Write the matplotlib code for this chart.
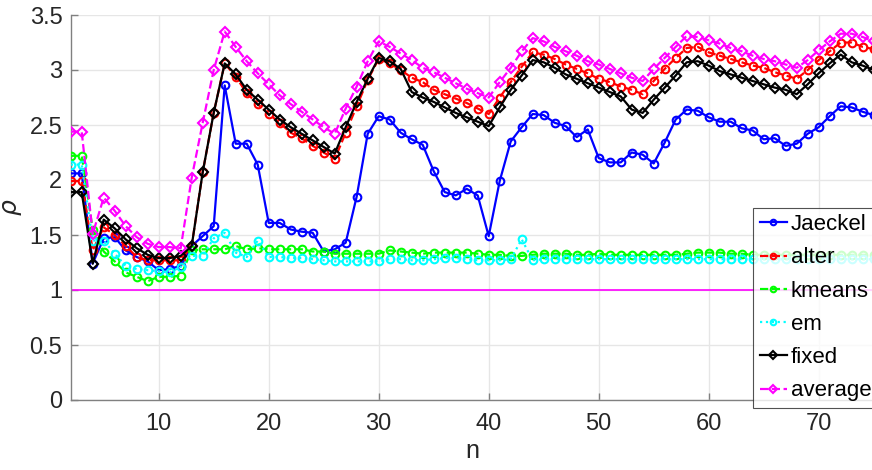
import matplotlib
matplotlib.use("Agg")
import matplotlib.pyplot as plt
import numpy as np

plt.rcParams['font.family'] = ['Liberation Sans', 'DejaVu Sans']

n = list(range(2, 76))

jaeckel = [2.06, 2.06, 1.24, 1.47, 1.48, 1.36, 1.30, 1.26, 1.18, 1.19,
           1.22, 1.40, 1.49, 1.58, 2.86, 2.33, 2.33, 2.14, 1.61, 1.61,
           1.55, 1.53, 1.52, 1.35, 1.37, 1.43, 1.85, 2.42, 2.58, 2.55,
           2.43, 2.37, 2.32, 2.08, 1.89, 1.86, 1.92, 1.86, 1.49, 1.99,
           2.35, 2.48, 2.60, 2.59, 2.52, 2.49, 2.39, 2.46, 2.20, 2.16,
           2.16, 2.25, 2.23, 2.15, 2.34, 2.55, 2.64, 2.63, 2.57, 2.53,
           2.53, 2.47, 2.45, 2.37, 2.38, 2.31, 2.33, 2.42, 2.48, 2.58,
           2.67, 2.66, 2.62, 2.59]

alter = [1.99, 1.99, 1.36, 1.57, 1.50, 1.40, 1.30, 1.27, 1.27, 1.27,
         1.27, 1.40, 2.07, 2.61, 3.06, 2.94, 2.79, 2.69, 2.60, 2.52,
         2.43, 2.38, 2.31, 2.25, 2.19, 2.43, 2.67, 2.91, 3.10, 3.06,
         3.00, 2.93, 2.89, 2.82, 2.78, 2.74, 2.70, 2.65, 2.60, 2.75,
         2.89, 3.03, 3.16, 3.14, 3.10, 3.05, 3.01, 2.97, 2.92, 2.89,
         2.85, 2.82, 2.78, 2.90, 3.01, 3.11, 3.20, 3.21, 3.16, 3.13,
         3.10, 3.07, 3.04, 3.02, 2.98, 2.95, 2.92, 3.00, 3.09, 3.17,
         3.25, 3.25, 3.21, 3.19]

kmeans = [2.22, 2.22, 1.55, 1.35, 1.26, 1.16, 1.12, 1.08, 1.12, 1.12,
          1.13, 1.36, 1.37, 1.37, 1.37, 1.40, 1.37, 1.38, 1.37, 1.37,
          1.37, 1.37, 1.35, 1.35, 1.33, 1.33, 1.33, 1.33, 1.33, 1.36,
          1.35, 1.34, 1.33, 1.34, 1.34, 1.34, 1.34, 1.33, 1.32, 1.32,
          1.31, 1.31, 1.32, 1.33, 1.33, 1.33, 1.32, 1.32, 1.33, 1.32,
          1.32, 1.32, 1.32, 1.32, 1.32, 1.32, 1.33, 1.34, 1.34, 1.34,
          1.33, 1.33, 1.32, 1.32, 1.32, 1.32, 1.32, 1.32, 1.32, 1.32,
          1.32, 1.32, 1.32, 1.32]

em = [2.14, 2.14, 1.45, 1.45, 1.33, 1.22, 1.19, 1.18, 1.17, 1.16,
      1.21, 1.31, 1.31, 1.47, 1.52, 1.34, 1.30, 1.45, 1.30, 1.30,
      1.29, 1.29, 1.28, 1.27, 1.26, 1.26, 1.26, 1.26, 1.26, 1.28,
      1.28, 1.27, 1.27, 1.28, 1.29, 1.29, 1.28, 1.27, 1.27, 1.27,
      1.28, 1.46, 1.27, 1.28, 1.28, 1.28, 1.28, 1.28, 1.28, 1.28,
      1.28, 1.28, 1.28, 1.28, 1.28, 1.28, 1.28, 1.28, 1.28, 1.28,
      1.28, 1.28, 1.28, 1.28, 1.28, 1.28, 1.28, 1.28, 1.28, 1.28,
      1.28, 1.28, 1.28, 1.28]

fixed = [1.89, 1.89, 1.24, 1.64, 1.56, 1.46, 1.38, 1.32, 1.29, 1.29,
         1.31, 1.40, 2.07, 2.61, 3.06, 2.96, 2.82, 2.73, 2.64, 2.55,
         2.48, 2.42, 2.36, 2.30, 2.24, 2.48, 2.71, 2.92, 3.11, 3.08,
         3.01, 2.80, 2.75, 2.71, 2.66, 2.61, 2.57, 2.53, 2.49, 2.66,
         2.82, 2.95, 3.09, 3.07, 3.02, 2.96, 2.92, 2.88, 2.84, 2.80,
         2.76, 2.64, 2.61, 2.73, 2.84, 2.95, 3.07, 3.08, 3.04, 2.99,
         2.96, 2.93, 2.90, 2.87, 2.84, 2.82, 2.78, 2.87, 2.97, 3.06,
         3.14, 3.07, 3.04, 3.00]

average = [2.44, 2.44, 1.51, 1.84, 1.72, 1.58, 1.48, 1.42, 1.39, 1.39,
           1.38, 2.02, 2.52, 3.00, 3.35, 3.21, 3.08, 2.97, 2.87, 2.77,
           2.69, 2.62, 2.55, 2.48, 2.42, 2.65, 2.85, 3.08, 3.26, 3.21,
           3.15, 3.09, 3.02, 2.98, 2.93, 2.88, 2.83, 2.79, 2.75, 2.89,
           3.02, 3.17, 3.29, 3.26, 3.21, 3.17, 3.13, 3.08, 3.05, 3.01,
           2.97, 2.93, 2.90, 3.01, 3.11, 3.21, 3.31, 3.30, 3.27, 3.24,
           3.20, 3.17, 3.13, 3.10, 3.08, 3.05, 3.02, 3.09, 3.18, 3.26,
           3.33, 3.33, 3.30, 3.26]

reference = 1.0

labels = ['Jaeckel', 'alter', 'kmeans', 'em', 'fixed', 'average']
x_ticks = [10, 20, 30, 40, 50, 60, 70]
y_ticks = [0, 0.5, 1, 1.5, 2, 2.5, 3, 3.5]
y_tick_labels = ['0', '0.5', '1', '1.5', '2', '2.5', '3', '3.5']

W, H = 872, 470
fig = plt.figure(figsize=(W / 100, H / 100), dpi=100)
left_px, bottom_px, top_px = 70.7, 400, 15
right_px = 70.7 + 73 * 11.0
ax = fig.add_axes([left_px / W, 1 - bottom_px / H,
                   (right_px - left_px) / W, (bottom_px - top_px) / H])

ax.axhline(reference, color=(1, 0, 1), lw=1.2, zorder=1)

styles = [
    (jaeckel, (0, 0, 1), '-', 'o'),
    (alter, (1, 0, 0), '--', 'o'),
    (kmeans, (0, 1, 0), '--', 'o'),
    (em, (0, 1, 1), ':', 'o'),
    (fixed, (0, 0, 0), '-', 'D'),
    (average, (1, 0, 1), '--', 'D'),
]
handles = []
for (vals, col, ls, mk), lab in zip(styles, labels):
    ms = 5.5 if mk == 'o' else 5
    h, = ax.plot(n, vals, color=col, ls=ls, lw=1.6, marker=mk,
                 markersize=ms, markerfacecolor='none', markeredgewidth=1.5,
                 label=lab, zorder=3)
    handles.append(h)

ax.set_xlim(2, 75)
ax.set_ylim(0, 3.5)
ax.set_xticks(x_ticks)
ax.set_yticks(y_ticks)
ax.set_yticklabels(y_tick_labels)
ax.grid(True, color='#e6e6e6', lw=1.0)
ax.set_axisbelow(True)
for s in ['top', 'right']:
    ax.spines[s].set_visible(False)
for s in ['left', 'bottom']:
    ax.spines[s].set_color('#808080')
    ax.spines[s].set_linewidth(1.0)
ax.tick_params(direction='in', length=5, colors='#808080', labelcolor='#262626',
               labelsize=17, width=1.0)
ax.tick_params(axis='x', pad=9)
ax.tick_params(axis='y', pad=6)
ax.set_xlabel('n', fontsize=18, color='#262626', labelpad=3)
ax.set_ylabel(r'$\rho$', fontsize=18, color='#262626', labelpad=4)

leg = ax.legend(handles=handles, loc='upper left',
                bbox_to_anchor=(753.3 / W, 1 - 208 / H),
                bbox_transform=fig.transFigure, fontsize=16,
                frameon=True, fancybox=False, handlelength=1.25,
                handletextpad=0.15, labelspacing=0.55, borderpad=0.28,
                borderaxespad=0)
leg.get_frame().set_edgecolor('#262626')
leg.get_frame().set_linewidth(0.8)
for line in leg.get_lines():
    line.set_markersize(4)

fig.savefig('out.png', dpi=100)
